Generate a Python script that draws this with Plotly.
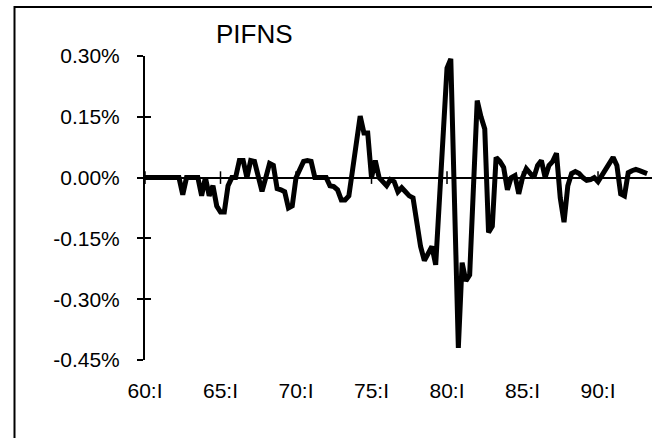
import plotly.graph_objects as go

# Quarterly observations starting 1960:I (index 0 = 1960:I), values in percent
pifns = [
    0.0, 0.0, 0.0, 0.0, 0.0, 0.0, 0.0, 0.0, 0.0, 0.0,          # 0-9
    -0.042, 0.0, 0.0, 0.0, 0.0, -0.045, 0.0, -0.045, -0.02, -0.07,  # 10-19
    -0.085, -0.085, -0.02, 0.0, 0.0, 0.042, 0.042, 0.0, 0.042, 0.04,  # 20-29
    0.0, -0.034, 0.0, 0.035, 0.03, -0.027, -0.03, -0.035, -0.075, -0.07,  # 30-39
    0.0, 0.02, 0.04, 0.042, 0.04, 0.0, 0.0, 0.0, 0.0, -0.02,  # 40-49
    -0.022, -0.03, -0.055, -0.055, -0.045, 0.02, 0.085, 0.152, 0.11, 0.11,  # 50-59
    0.0, 0.042, 0.0, -0.01, -0.02, -0.005, -0.01, -0.035, -0.025, -0.035,  # 60-69
    -0.045, -0.05, -0.11, -0.17, -0.205, -0.19, -0.17, -0.215, -0.053, 0.11,  # 70-79
    0.27, 0.293, -0.1, -0.42, -0.21, -0.255, -0.24, -0.03, 0.19, 0.15,  # 80-89
    0.12, -0.135, -0.12, 0.05, 0.04, 0.025, -0.03, 0.0, 0.005, -0.04,  # 90-99
    0.0, 0.022, 0.01, 0.0, 0.03, 0.042, 0.0, 0.03, 0.04, 0.06,  # 100-109
    -0.05, -0.11, -0.02, 0.01, 0.015, 0.01, 0.0, -0.007, -0.005, 0.0,  # 110-119
    -0.01, 0.005, 0.018, 0.035, 0.05, 0.03, -0.04, -0.045, 0.012, 0.017,  # 120-129
    0.02, 0.017, 0.015, 0.01,  # 130-133
]
quarter_index = list(range(len(pifns)))

x_tick_labels = ["60:I", "65:I", "70:I", "75:I", "80:I", "85:I", "90:I"]
x_tick_years = [60, 65, 70, 75, 80, 85, 90]
y_tick_values = [-0.45, -0.30, -0.15, 0.0, 0.15, 0.30]
y_tick_labels = ["-0.45%", "-0.30%", "-0.15%", "0.00%", "0.15%", "0.30%"]
title_text = "PIFNS"

x_tick_pos = [(yr - 60) * 4 for yr in x_tick_years]

FONT = "Liberation Sans, Arial, sans-serif"

L, T = 145, 56          # plot area left / top (px)
PW, PH = 507, 304       # plot area width / height

fig = go.Figure()

# tick marks crossing the zero line
fig.add_trace(go.Scatter(
    x=x_tick_pos, y=[0] * len(x_tick_pos), mode="markers",
    marker=dict(symbol="line-ns", size=9, line=dict(color="black", width=1.5)),
    hoverinfo="skip", showlegend=False,
))

fig.add_trace(go.Scatter(
    x=quarter_index, y=pifns, mode="lines",
    line=dict(color="black", width=5),
    showlegend=False,
))

fig.update_layout(
    width=652, height=438,
    margin=dict(l=L, r=652 - L - PW, t=T, b=438 - T - PH),
    paper_bgcolor="white", plot_bgcolor="white",
    font=dict(family=FONT, size=21, color="black"),
    hovermode=False,
    xaxis=dict(
        range=[0, 134.3],
        tickmode="array", tickvals=x_tick_pos, ticktext=x_tick_labels,
        ticks="", showline=False, showgrid=False, zeroline=False,
        ticklabelstandoff=16,
        tickfont=dict(family=FONT, size=21, color="black"),
    ),
    yaxis=dict(
        range=[-0.45, 0.30],
        tickmode="array", tickvals=y_tick_values, ticktext=y_tick_labels,
        ticks="outside", ticklen=6, tickwidth=2, tickcolor="black",
        showline=True, linewidth=2, linecolor="black",
        showgrid=False,
        zeroline=True, zerolinecolor="black", zerolinewidth=2,
        ticklabelstandoff=13,
        tickfont=dict(family=FONT, size=21, color="black"),
    ),
    yaxis2=dict(
        range=[-0.45, 0.30], overlaying="y", side="left",
        tickmode="array", tickvals=y_tick_values,
        ticks="inside", ticklen=6, tickwidth=2, tickcolor="black",
        showticklabels=False, showline=False, showgrid=False, zeroline=False,
    ),
    shapes=[dict(
        type="rect", xref="paper", yref="paper",
        x0=(14.5 - L) / PW, x1=1.05,
        y0=-0.3, y1=1 + (T - 7) / PH,
        line=dict(color="black", width=2), fillcolor="rgba(0,0,0,0)",
        layer="below",
    )],
    annotations=[dict(
        text=title_text, xref="paper", yref="paper",
        x=(254 - L) / PW, y=1 + (T - 34) / PH,
        xanchor="center", yanchor="middle", showarrow=False,
        font=dict(family=FONT, size=26, color="black"),
    )],
)

# invisible trace so the overlay axis (inner tick halves) is drawn
fig.add_trace(go.Scatter(x=[None], y=[None], yaxis="y2", showlegend=False, hoverinfo="skip"))

fig.write_html(
    "out.html",
    config={"displayModeBar": False, "staticPlot": True},
    post_script="document.body.style.margin='0';",
)
